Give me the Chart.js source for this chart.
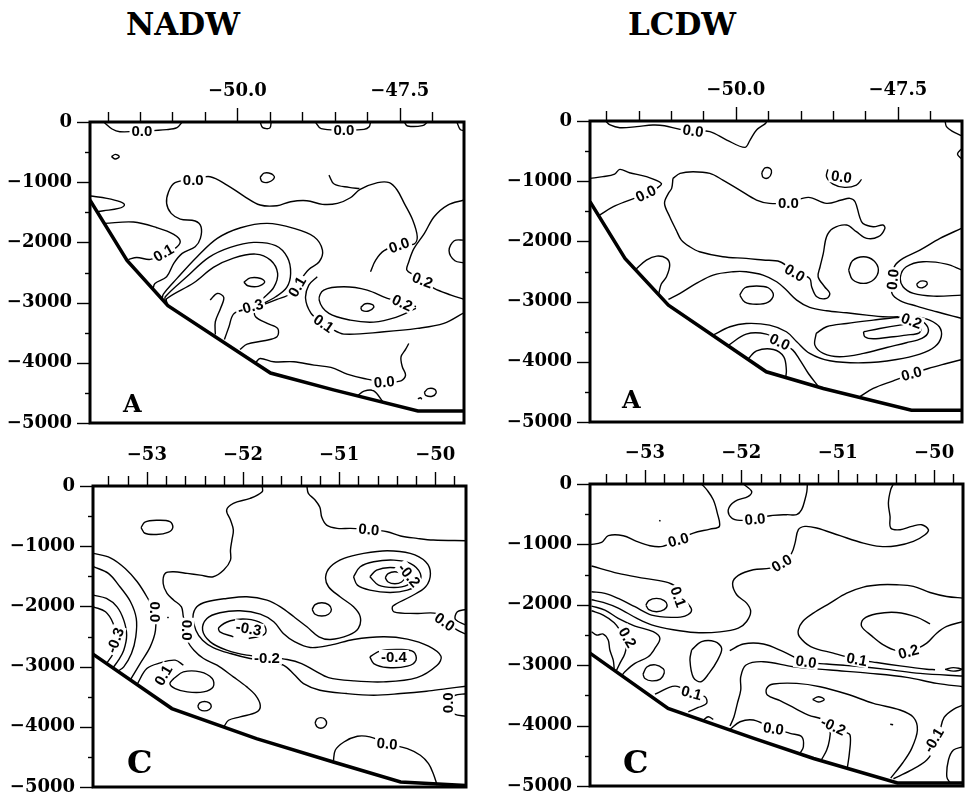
<!DOCTYPE html>
<html>
<head>
<meta charset="utf-8">
<script src="https://cdn.jsdelivr.net/npm/chart.js@4.4.1/dist/chart.umd.min.js"></script>
<style>
  body { margin: 0; width: 966px; height: 796px; background: #fff; position: relative; overflow: hidden; }
  canvas { position: absolute; }
  .title { position: absolute; top: 6px; font: bold 31px "DejaVu Serif", serif; transform: translateX(-50%); color: #000; }
</style>
</head>
<body>
<div class="title" style="left:183px">NADW</div>
<div class="title" style="left:682px">LCDW</div>
<canvas id="nadwA" width="480" height="436" style="left:0;top:0"></canvas>
<canvas id="lcdwA" width="486" height="436" style="left:480px;top:0"></canvas>
<canvas id="nadwC" width="480" height="370" style="left:0;top:430px"></canvas>
<canvas id="lcdwC" width="486" height="370" style="left:480px;top:430px"></canvas>
<script>
// tick labels
var depthTicks = [0, -1000, -2000, -3000, -4000, -5000];
var lonTicksTop = [-50.0, -47.5];
var lonTicksBottom = [-53, -52, -51, -50];

// ---- NADW, section A ----
var nadwA_bottom = [[-52.27,-1300],[-51.70,-2300],[-51.07,-3050],[-49.49,-4170],[-48.52,-4450],[-47.22,-4800],[-46.5,-4800]];
var nadwA_contours = [
  [[-52.06,0],[-51.93,-116],[-51.81,-161],[-51.47,-150],[-51.09,-127],[-50.93,-94],[-50.85,0]],
  [[-49.65,0],[-49.61,-94],[-49.50,-100],[-49.48,0]],
  [[-48.80,0],[-48.71,-111],[-48.36,-133],[-48.05,-122],[-47.97,-78],[-47.95,0]],
  [[-47.43,0],[-47.38,-66],[-47.15,-61],[-47.07,0]],
  [[-46.62,0],[-46.57,-122],[-46.51,-144]],
  [[-51.94,-576],[-51.88,-537],[-51.82,-576],[-51.88,-615],[-51.94,-576]],
  [[-49.65,-920],[-49.59,-850],[-49.48,-860],[-49.43,-920],[-49.52,-1000],[-49.62,-990],[-49.65,-920]],
  [[-52.26,-1230],[-52.01,-1269],[-51.81,-1324],[-51.74,-1379],[-51.83,-1435],[-52.06,-1474],[-52.16,-1490]],
  [[-51.30,-2780],[-51.27,-2681],[-51.09,-2571],[-50.98,-2349],[-50.85,-2183],[-50.65,-2072],[-50.57,-1933],[-50.56,-1740],[-50.65,-1645],[-50.88,-1612],[-51.02,-1518],[-51.09,-1352],[-51.06,-1158],[-50.96,-1008],[-50.68,-953],[-50.42,-909],[-50.16,-1047],[-49.90,-1230],[-49.65,-1379],[-49.39,-1391],[-49.18,-1324],[-48.93,-1307],[-48.69,-1368],[-48.46,-1352],[-48.26,-1258],[-48.11,-1119],[-47.84,-1008],[-47.66,-1008],[-47.54,-1130],[-47.43,-1352],[-47.30,-1629],[-47.23,-1906],[-47.28,-2028],[-47.51,-2044],[-47.74,-2138],[-47.87,-2294],[-47.95,-2487]],
  [[-48.59,-881],[-48.51,-1030],[-48.28,-1086],[-48.12,-1105]],
  [[-52.04,-1684],[-51.60,-1662],[-51.24,-1756],[-50.98,-1867],[-50.88,-1989],[-50.98,-2116],[-51.14,-2183],[-51.34,-2282],[-51.55,-2250],[-51.68,-2285]],
  [[-51.16,-2950],[-51.14,-2859],[-50.93,-2598],[-50.62,-2238],[-50.31,-1933],[-49.95,-1756],[-49.54,-1684],[-49.13,-1767],[-48.82,-1906],[-48.69,-2127],[-48.74,-2321],[-48.90,-2449],[-49.05,-2654],[-49.18,-2848],[-49.39,-2947],[-49.62,-3041],[-49.75,-3080]],
  [[-51.11,-2985],[-51.11,-2903],[-50.78,-2571],[-50.44,-2249],[-50.11,-2083],[-49.75,-2000],[-49.41,-2055],[-49.23,-2249],[-49.18,-2515],[-49.24,-2748],[-49.41,-2903],[-49.65,-3041]],
  [[-51.08,-3020],[-51.09,-2936],[-50.67,-2670],[-50.37,-2415],[-50.06,-2260],[-49.72,-2194],[-49.49,-2294],[-49.38,-2515],[-49.44,-2748],[-49.59,-2914],[-49.75,-3058]],
  [[-49.90,-2660],[-49.80,-2590],[-49.64,-2600],[-49.58,-2660],[-49.68,-2730],[-49.84,-2720],[-49.90,-2660]],
  [[-50.42,-2958],[-50.31,-2848],[-50.21,-2914],[-50.26,-3097],[-50.34,-3318],[-50.34,-3530]],
  [[-49.88,-3097],[-50.06,-3191],[-50.13,-3402],[-50.20,-3612]],
  [[-49.75,-3097],[-49.72,-3235],[-49.54,-3346],[-49.38,-3429],[-49.39,-3568],[-49.59,-3634],[-49.85,-3690],[-49.96,-3778]],
  [[-47.25,-3069],[-47.43,-2986],[-47.69,-2931],[-48.00,-2792],[-48.36,-2737],[-48.67,-2792],[-48.74,-2958],[-48.59,-3180],[-48.26,-3291],[-47.90,-3324],[-47.56,-3246],[-47.25,-3097]],
  [[-48.10,-3080],[-48.03,-3020],[-47.92,-3035],[-47.90,-3080],[-47.98,-3140],[-48.08,-3130],[-48.10,-3080]],
  [[-46.51,-3169],[-46.82,-3346],[-47.23,-3429],[-47.74,-3485],[-48.36,-3523],[-48.56,-3429],[-48.72,-3318],[-48.87,-3169],[-48.95,-2931],[-48.90,-2709],[-48.77,-2571]],
  [[-46.51,-1296],[-46.76,-1379],[-46.97,-1573],[-47.12,-1850],[-47.28,-2100],[-47.36,-2321],[-47.39,-2460],[-47.28,-2543],[-47.15,-2626],[-46.97,-2764],[-46.71,-2875],[-46.51,-2947]],
  [[-46.51,-1961],[-46.66,-1972],[-46.74,-2138],[-46.65,-2305],[-46.51,-2338]],
  [[-49.72,-4000],[-49.65,-3928],[-49.44,-3983],[-49.13,-3983],[-48.82,-4039],[-48.56,-4077],[-48.31,-4188],[-48.05,-4260],[-47.74,-4316],[-47.48,-4299],[-47.41,-4205],[-47.46,-4066],[-47.48,-3900],[-47.41,-3778],[-47.36,-3679]],
  [[-48.15,-4550],[-48.05,-4470],[-47.90,-4465],[-47.76,-4645]],
  [[-47.12,-4490],[-47.06,-4430],[-46.96,-4440],[-46.94,-4500],[-47.00,-4555],[-47.10,-4540],[-47.12,-4490]],
  [[-47.22,-4600],[-47.18,-4580],[-47.16,-4605]]
];
var nadwA_labels = [
  [-51.47,-150,'0.0',0], [-48.36,-133,'0.0',0], [-50.68,-964,'0.0',0],
  [-51.14,-2172,'0.1',-30], [-49.08,-2737,'0.1',-60], [-49.80,-3069,'-0.3',-15],
  [-47.51,-2044,'0.0',-20], [-47.15,-2626,'0.2',20], [-47.46,-3003,'0.2',25],
  [-48.67,-3346,'0.1',35], [-47.74,-4316,'0.0',-5]
];

// ---- LCDW, section A ----
var lcdwA_bottom = [[-52.25,-1341],[-51.71,-2282],[-51.04,-3058],[-49.53,-4166],[-48.65,-4443],[-47.29,-4803],[-46.51,-4803]];
var lcdwA_contours = [
  [[-52.01,0],[-51.94,-66],[-51.79,-111],[-51.53,-94],[-51.28,-66],[-51.10,-78],[-50.86,-139],[-50.66,-161],[-50.40,-177],[-50.14,-316],[-49.86,-438],[-49.78,-316],[-49.68,-150],[-49.54,-39],[-49.52,0]],
  [[-46.77,0],[-46.75,-94],[-46.65,-177],[-46.54,-233],[-46.51,-249]],
  [[-46.51,-454],[-46.58,-548],[-46.51,-637]],
  [[-49.60,-860],[-49.55,-780],[-49.47,-790],[-49.45,-860],[-49.50,-945],[-49.58,-935],[-49.60,-860]],
  [[-48.58,-803],[-48.60,-925],[-48.50,-1047],[-48.32,-1102],[-48.14,-1064],[-48.06,-970]],
  [[-52.25,-953],[-52.05,-925],[-51.87,-881],[-51.79,-803],[-51.64,-859],[-51.38,-925],[-51.15,-1036],[-51.22,-1119],[-51.40,-1213],[-51.64,-1313],[-51.89,-1424],[-52.11,-1570]],
  [[-50.97,-953],[-50.86,-870],[-50.66,-842],[-50.40,-870],[-50.20,-981],[-49.94,-1147],[-49.68,-1313],[-49.48,-1368],[-49.19,-1357],[-48.88,-1269],[-48.60,-1368],[-48.37,-1313],[-48.24,-1285],[-48.16,-1341],[-48.09,-1590],[-48.04,-1701],[-47.88,-1756],[-47.73,-1728],[-47.70,-1784],[-47.80,-1922],[-47.98,-1950],[-48.14,-1839],[-48.29,-1728],[-48.50,-1784],[-48.60,-1922],[-48.65,-2199],[-48.70,-2421],[-48.73,-2587],[-48.63,-2753],[-48.55,-2864],[-48.60,-2947],[-48.75,-2920],[-48.83,-2753],[-48.86,-2615],[-49.09,-2504],[-49.32,-2338],[-49.58,-2310],[-49.84,-2282],[-50.20,-2255],[-50.56,-2172],[-50.71,-2089],[-50.84,-1978],[-50.92,-1812],[-51.02,-1590],[-51.10,-1368],[-51.04,-1202],[-50.99,-1119],[-50.97,-953]],
  [[-51.55,-2470],[-51.38,-2310],[-51.22,-2244],[-51.07,-2282],[-51.02,-2393],[-51.07,-2587],[-51.15,-2709],[-51.19,-2870]],
  [[-51.04,-2964],[-50.86,-2864],[-50.61,-2698],[-50.35,-2559],[-50.04,-2504],[-49.84,-2504],[-49.58,-2559],[-49.37,-2670],[-49.22,-2809],[-49.06,-2975],[-48.86,-3097],[-48.60,-3152],[-48.29,-3186],[-47.98,-3224],[-47.73,-3252],[-47.49,-3252]],
  [[-49.94,-2890],[-49.86,-2770],[-49.68,-2740],[-49.50,-2770],[-49.42,-2890],[-49.50,-3010],[-49.68,-3045],[-49.86,-3010],[-49.94,-2890]],
  [[-48.26,-2476],[-48.20,-2320],[-48.03,-2254],[-47.87,-2320],[-47.80,-2476],[-47.87,-2632],[-48.03,-2698],[-48.20,-2632],[-48.26,-2476]],
  [[-46.52,-1784],[-46.85,-1950],[-47.16,-2144],[-47.42,-2282],[-47.55,-2410],[-47.59,-2632],[-47.59,-2864],[-47.46,-2986],[-47.21,-3075],[-46.90,-3169],[-46.65,-3241],[-46.51,-3280]],
  [[-46.51,-2476],[-46.75,-2377],[-47.11,-2338],[-47.37,-2421],[-47.46,-2587],[-47.42,-2753],[-47.26,-2864],[-46.95,-2909],[-46.51,-2892]],
  [[-47.21,-2710],[-47.15,-2660],[-47.06,-2670],[-47.05,-2720],[-47.12,-2770],[-47.19,-2755],[-47.21,-2710]],
  [[-48.03,-3501],[-47.78,-3446],[-47.47,-3390],[-47.26,-3363],[-47.15,-3429],[-47.17,-3518],[-47.37,-3557],[-47.57,-3584],[-47.88,-3618],[-48.01,-3584],[-48.03,-3501]],
  [[-48.76,-3529],[-48.60,-3418],[-48.29,-3363],[-47.88,-3307],[-47.52,-3263],[-47.26,-3263],[-47.08,-3363],[-47.03,-3501],[-47.13,-3612],[-47.37,-3684],[-47.67,-3762],[-48.03,-3861],[-48.40,-3917],[-48.65,-3861],[-48.78,-3723],[-48.76,-3529]],
  [[-50.35,-3557],[-50.09,-3418],[-49.84,-3363],[-49.48,-3390],[-49.22,-3501],[-49.06,-3667],[-48.86,-3861],[-48.55,-3983],[-48.03,-4017],[-47.52,-3961],[-47.16,-3872],[-46.93,-3751],[-46.83,-3584],[-46.86,-3418],[-47.01,-3307],[-47.21,-3252]],
  [[-50.12,-3730],[-49.84,-3540],[-49.53,-3540],[-49.32,-3667],[-49.12,-3806],[-49.01,-3972],[-48.88,-4194],[-48.73,-4404]],
  [[-49.81,-3955],[-49.68,-3817],[-49.42,-3795],[-49.26,-3917],[-49.22,-4138],[-49.23,-4260]],
  [[-48.10,-4590],[-47.88,-4443],[-47.57,-4316],[-47.29,-4205],[-47.03,-4111],[-46.75,-4028],[-46.51,-3961]]
];
var lcdwA_labels = [
  [-50.66,-161,'0.0',8], [-48.37,-925,'0.0',8], [-51.39,-1202,'0.0',-25],
  [-49.19,-1357,'0.0',0], [-49.09,-2520,'0.0',30], [-47.58,-2632,'0.0',-85],
  [-47.29,-3318,'0.2',20], [-49.32,-3667,'0.0',25], [-47.29,-4194,'0.0',-15]
];

// ---- NADW, section C ----
var nadwC_bottom = [[-53.56,-2794],[-52.74,-3697],[-51.86,-4196],[-51.06,-4584],[-50.36,-4917],[-49.68,-4975]];
var nadwC_contours = [
  [[-51.80,0],[-51.80,-94],[-51.925,-205],[-52.10,-288],[-52.17,-399],[-52.13,-565],[-52.10,-732],[-52.115,-898],[-52.13,-1064],[-52.13,-1231],[-52.20,-1397],[-52.31,-1508],[-52.445,-1480],[-52.58,-1452],[-52.72,-1425],[-52.81,-1452],[-52.83,-1619],[-52.79,-1785],[-52.72,-1896],[-52.64,-2007],[-52.62,-2173],[-52.58,-2395],[-52.57,-2589],[-52.51,-2727],[-52.41,-2866],[-52.27,-2977],[-52.10,-3171],[-51.96,-3337],[-51.87,-3475],[-51.82,-3642],[-51.855,-3753],[-52.03,-3836],[-52.15,-3891],[-52.195,-3991]],
  [[-51.335,0],[-51.32,-122],[-51.25,-233],[-51.20,-355],[-51.18,-521],[-51.13,-649],[-51.02,-704],[-50.88,-704],[-50.69,-721],[-50.50,-759],[-50.36,-831],[-50.19,-870],[-50.02,-898],[-49.68,-909]],
  [[-53.06,-690],[-53.02,-600],[-52.90,-570],[-52.76,-590],[-52.73,-690],[-52.78,-770],[-52.90,-805],[-53.02,-785],[-53.06,-690]],
  [[-49.68,-2461],[-49.77,-2395],[-49.86,-2284],[-49.98,-2120],[-50.19,-2117],[-50.43,-2090],[-50.44,-1995],[-50.26,-1840],[-50.10,-1674],[-50.05,-1452],[-50.10,-1258],[-50.26,-1120],[-50.50,-1075],[-50.745,-1120],[-50.95,-1203],[-51.09,-1341],[-51.14,-1508],[-51.11,-1674],[-50.99,-1840],[-50.85,-2007],[-50.78,-2173],[-50.80,-2367],[-50.90,-2478],[-51.09,-2550],[-51.21,-2505],[-51.335,-2339],[-51.47,-2173],[-51.61,-2007],[-51.75,-1896],[-51.96,-1840],[-52.17,-1868],[-52.375,-1923],[-52.48,-2007],[-52.52,-2173],[-52.49,-2395],[-52.42,-2561],[-52.31,-2683],[-52.13,-2783],[-51.925,-2866],[-51.75,-2905],[-51.58,-2977],[-51.47,-3126],[-51.37,-3282],[-51.20,-3392],[-50.92,-3448],[-50.64,-3475],[-50.36,-3448],[-50.09,-3409],[-49.88,-3365],[-49.68,-3326]],
  [[-50.85,-1508],[-50.78,-1341],[-50.64,-1258],[-50.43,-1231],[-50.26,-1286],[-50.155,-1452],[-50.17,-1619],[-50.29,-1729],[-50.47,-1768],[-50.68,-1729],[-50.81,-1646],[-50.85,-1508]],
  [[-50.68,-1508],[-50.61,-1397],[-50.47,-1353],[-50.31,-1397],[-50.24,-1535],[-50.29,-1646],[-50.43,-1685],[-50.59,-1646],[-50.68,-1508]],
  [[-50.52,-1524],[-50.49,-1455],[-50.42,-1424],[-50.35,-1455],[-50.32,-1524],[-50.35,-1595],[-50.42,-1624],[-50.49,-1595],[-50.52,-1524]],
  [[-51.28,-2050],[-51.25,-1970],[-51.18,-1940],[-51.11,-1970],[-51.08,-2050],[-51.11,-2130],[-51.18,-2160],[-51.25,-2130],[-51.28,-2050]],
  [[-49.68,-2051],[-49.77,-2090],[-49.79,-2217],[-49.68,-2311]],
  [[-51.94,-2533],[-51.79,-2478],[-51.76,-2395],[-51.80,-2284],[-51.96,-2212],[-52.13,-2239],[-52.25,-2350],[-52.24,-2422],[-52.10,-2505]],
  [[-51.75,-2838],[-51.96,-2810],[-52.17,-2727],[-52.34,-2589],[-52.42,-2395],[-52.375,-2200],[-52.24,-2106],[-52.03,-2073],[-51.82,-2128],[-51.68,-2256],[-51.58,-2450],[-51.46,-2589],[-51.30,-2683],[-51.09,-2644],[-50.85,-2550],[-50.54,-2505],[-50.29,-2544],[-50.07,-2661],[-49.94,-2827],[-49.98,-2977],[-50.19,-3182],[-50.54,-3254],[-50.85,-3237],[-51.11,-3182],[-51.25,-3071],[-51.39,-2949],[-51.54,-2882],[-51.75,-2838]],
  [[-50.68,-2838],[-50.57,-2738],[-50.36,-2716],[-50.225,-2755],[-50.20,-2893],[-50.29,-2993],[-50.50,-3015],[-50.64,-2949],[-50.68,-2838]],
  [[-49.68,-3450],[-49.80,-3480],[-49.87,-3560],[-49.86,-3690],[-49.80,-3790],[-49.68,-3825]],
  [[-53.555,-1120],[-53.38,-1192],[-53.225,-1369],[-53.10,-1591],[-53.00,-1840],[-52.92,-2090],[-52.91,-2395],[-52.965,-2672],[-53.07,-2949],[-53.17,-3215]],
  [[-53.555,-1341],[-53.40,-1452],[-53.28,-1674],[-53.17,-1923],[-53.11,-2200],[-53.115,-2505],[-53.16,-2783],[-53.24,-3004],[-53.30,-3075]],
  [[-53.555,-1813],[-53.42,-1868],[-53.31,-2007],[-53.24,-2228],[-53.21,-2478],[-53.24,-2727],[-53.295,-2893],[-53.35,-3015]],
  [[-53.555,-2007],[-53.43,-2090],[-53.35,-2284],[-53.31,-2561],[-53.35,-2783],[-53.42,-2949]],
  [[-53.10,-3290],[-53.00,-3032],[-52.86,-2938],[-52.705,-2893],[-52.62,-2977]],
  [[-52.72,-3198],[-52.62,-3088],[-52.445,-3088],[-52.32,-3198],[-52.31,-3337],[-52.41,-3420],[-52.58,-3420],[-52.705,-3365],[-52.76,-3282],[-52.72,-3198]],
  [[-52.47,-3658],[-52.45,-3603],[-52.40,-3580],[-52.35,-3603],[-52.33,-3658],[-52.35,-3713],[-52.40,-3736],[-52.45,-3713],[-52.47,-3658]],
  [[-51.25,-3936],[-51.23,-3870],[-51.19,-3847],[-51.15,-3870],[-51.13,-3936],[-51.15,-4000],[-51.19,-4025],[-51.23,-4000],[-51.25,-3936]],
  [[-51.06,-4584],[-51.04,-4390],[-50.95,-4252],[-50.81,-4157],[-50.68,-4168],[-50.50,-4279],[-50.29,-4362],[-50.155,-4473],[-50.07,-4612],[-50.02,-4778],[-49.98,-4972]],
  [[-52.785,-2175],[-52.775,-2195]]
];
var nadwC_labels = [
  [-50.69,-721,'0.0',5], [-50.27,-1480,'-0.2',50], [-52.91,-2090,'0.0',90],
  [-52.58,-2395,'0.0',90], [-51.94,-2367,'-0.3',10], [-51.75,-2855,'-0.2',0],
  [-53.33,-2561,'-0.3',-70], [-52.83,-3143,'0.1',-60], [-50.43,-2838,'-0.4',0],
  [-49.90,-2256,'0.0',35], [-49.87,-3600,'0.0',-90], [-50.50,-4279,'0.0',5]
];

// ---- LCDW, section C ----
var lcdwC_bottom = [[-53.57,-2800],[-52.76,-3715],[-51.87,-4212],[-51.25,-4544],[-50.38,-4950],[-49.70,-4950]];
var lcdwC_contours = [
  [[-53.571,-1006],[-53.45,-967],[-53.38,-856],[-53.225,-856],[-53.087,-950],[-52.948,-1022],[-52.817,-1033],[-52.654,-923],[-52.498,-812],[-52.325,-746],[-52.228,-702],[-52.249,-481],[-52.291,-260],[-52.353,-105],[-52.412,0]],
  [[-51.979,0],[-51.893,-122],[-51.927,-204],[-52.066,-287],[-52.135,-425],[-52.10,-564],[-52.014,-602],[-51.858,-580],[-51.70,-525],[-51.53,-508],[-51.426,-508],[-51.374,-425],[-51.34,-260],[-51.32,-122],[-51.315,0]],
  [[-52.85,-598],[-52.84,-618]],
  [[-50.422,0],[-50.45,-94],[-50.474,-315],[-50.457,-536],[-50.45,-729],[-50.353,-757],[-50.232,-702],[-50.128,-674],[-50.059,-757],[-50.094,-840],[-50.215,-950],[-50.388,-1022],[-50.561,-1033],[-50.734,-978],[-50.976,-856],[-51.218,-729],[-51.34,-702],[-51.408,-757],[-51.443,-978],[-51.478,-1144],[-51.581,-1309],[-51.70,-1392],[-51.876,-1420],[-52.031,-1514],[-52.09,-1641],[-52.048,-1834],[-51.945,-1972],[-51.903,-2111],[-51.945,-2276],[-52.031,-2387],[-52.221,-2448],[-52.481,-2459],[-52.706,-2414],[-52.931,-2332],[-53.087,-2221],[-53.277,-2055],[-53.433,-1961],[-53.554,-1917]],
  [[-53.554,-1358],[-53.277,-1480],[-53.0,-1563],[-52.758,-1634],[-52.637,-1756],[-52.585,-1921],[-52.516,-2087],[-52.585,-2186],[-52.723,-2208],[-52.931,-2170],[-53.104,-2032],[-53.277,-1894],[-53.415,-1811],[-53.554,-1783]],
  [[-52.99,-2004],[-52.96,-1930],[-52.88,-1894],[-52.80,-1930],[-52.77,-2004],[-52.80,-2080],[-52.88,-2114],[-52.96,-2080],[-52.99,-2004]],
  [[-53.554,-2021],[-53.415,-2087],[-53.277,-2225],[-53.104,-2352],[-52.914,-2446],[-52.845,-2556],[-52.897,-2722],[-52.966,-2860],[-53.104,-2970],[-53.208,-3108],[-53.236,-3163]],
  [[-53.554,-2098],[-53.433,-2170],[-53.319,-2297],[-53.249,-2446],[-53.19,-2611],[-53.208,-2805],[-53.26,-2970],[-53.294,-3081]],
  [[-53.554,-2446],[-53.502,-2501],[-53.433,-2484],[-53.381,-2584],[-53.364,-2749],[-53.329,-2915],[-53.319,-3060]],
  [[-53.02,-3150],[-52.98,-3030],[-52.89,-2995],[-52.81,-3060],[-52.80,-3130],[-52.84,-3230],[-52.93,-3260],[-53.00,-3220],[-53.02,-3150]],
  [[-52.516,-2749],[-52.412,-2611],[-52.274,-2611],[-52.204,-2722],[-52.246,-2915],[-52.336,-3136],[-52.419,-3274],[-52.498,-3202],[-52.533,-2915],[-52.516,-2749]],
  [[-52.896,-3480],[-52.689,-3346],[-52.516,-3456],[-52.377,-3522],[-52.36,-3633],[-52.447,-3699],[-52.55,-3771]],
  [[-52.395,-3909],[-52.343,-3853],[-52.291,-3898]],
  [[-52.117,-4060],[-52.013,-3936],[-51.875,-3908],[-51.667,-4046],[-51.494,-4129],[-51.373,-4184],[-51.356,-4350],[-51.391,-4460]],
  [[-52.117,-4007],[-52.076,-3853],[-52.041,-3632],[-52.006,-3411],[-52.006,-3190],[-51.951,-2997],[-51.771,-2942],[-51.46,-3025],[-51.079,-3080],[-50.664,-3135],[-50.283,-3201],[-49.972,-3301],[-49.699,-3356]],
  [[-52.12,-2760],[-51.979,-2649],[-51.771,-2649],[-51.564,-2776],[-51.339,-2942],[-51.114,-2981],[-50.837,-3014],[-50.491,-3069],[-50.145,-3135],[-49.699,-3179]],
  [[-49.696,-1890],[-49.869,-1862],[-50.042,-1796],[-50.215,-1696],[-50.388,-1669],[-50.561,-1669],[-50.734,-1707],[-50.907,-1807],[-51.08,-1972],[-51.253,-2138],[-51.363,-2276],[-51.408,-2414],[-51.398,-2525],[-51.28,-2691],[-51.045,-2801],[-50.803,-2901],[-50.595,-2956],[-50.353,-3011],[-50.076,-3066],[-49.99,-3075]],
  [[-49.696,-2276],[-49.869,-2359],[-49.973,-2470],[-50.076,-2635],[-50.215,-2746],[-50.388,-2757],[-50.526,-2663],[-50.647,-2514],[-50.751,-2359],[-50.734,-2238],[-50.595,-2149],[-50.388,-2127],[-50.18,-2204],[-50.042,-2315]],
  [[-49.886,-3069],[-49.80,-3040],[-49.712,-3069],[-49.80,-3098],[-49.886,-3069]],
  [[-50.899,-4685],[-50.879,-4460],[-50.872,-4156],[-50.934,-4101],[-51.045,-3991],[-51.166,-3891],[-51.304,-3825],[-51.443,-3715],[-51.598,-3588],[-51.73,-3494],[-51.737,-3384],[-51.667,-3312],[-51.425,-3301],[-51.183,-3356],[-50.906,-3477],[-50.629,-3632],[-50.353,-3742],[-50.214,-3864],[-50.173,-4074],[-50.232,-4377],[-50.325,-4615],[-50.45,-4870]],
  [[-51.121,-3936],[-51.079,-4074],[-51.086,-4239],[-51.114,-4405],[-51.166,-4560]],
  [[-51.26,-3566],[-51.20,-3522],[-51.14,-3566],[-51.20,-3610],[-51.26,-3566]],
  [[-50.455,-3978],[-50.425,-3986]],
  [[-49.699,-3660],[-49.799,-3731],[-49.896,-3864],[-49.937,-4074],[-49.979,-4322],[-50.076,-4570],[-50.249,-4747],[-50.422,-4880]],
  [[-49.699,-4350],[-49.799,-4405],[-49.851,-4570],[-49.868,-4846],[-49.834,-4950]]
];
var lcdwC_labels = [
  [-52.654,-923,'0.0',-15], [-51.858,-580,'0.0',-5], [-51.581,-1309,'0.0',-30],
  [-52.654,-1866,'0.1',70], [-53.18,-2540,'0.2',60], [-51.328,-2942,'0.0',8],
  [-50.802,-2903,'0.1',10], [-50.266,-2776,'0.2',-15], [-52.516,-3456,'0.1',15],
  [-51.667,-4046,'0.0',8], [-51.045,-4007,'-0.2',25], [-50.007,-4239,'-0.1',-60]
];

var minus = function(v){ return v < 0 ? '\u2212' + Math.abs(v) : String(v); };
var near = function(list, v){ return list.some(function(t){ return Math.abs(t - v) < 1e-6; }); };

// frame, tick marks (major/minor) and panel letter
var panelBox = {
  id: 'panelBox',
  afterDraw: function(chart, args, opts){
    var ctx = chart.ctx, a = chart.chartArea, x = chart.scales.x, y = chart.scales.y;
    ctx.save();
    ctx.strokeStyle = '#000';
    ctx.lineWidth = 1.4;
    x.ticks.forEach(function(t){
      var px = Math.round(x.getPixelForValue(t.value)) + 0.5;
      var len = near(opts.lonLabels, t.value) ? 14 : 10;
      ctx.beginPath(); ctx.moveTo(px, a.top); ctx.lineTo(px, a.top - len); ctx.stroke();
    });
    y.ticks.forEach(function(t){
      var py = Math.round(y.getPixelForValue(t.value)) + 0.5;
      var len = near(depthTicks, t.value) ? 13 : 5;
      ctx.beginPath(); ctx.moveTo(a.left, py); ctx.lineTo(a.left - len, py); ctx.stroke();
    });
    ctx.lineWidth = 3;
    ctx.strokeRect(a.left, a.top, a.right - a.left, a.bottom - a.top);
    ctx.fillStyle = '#000';
    ctx.font = opts.font;
    ctx.textBaseline = 'alphabetic';
    ctx.fillText(opts.letter, a.left + opts.dx, a.bottom - opts.dy);
    ctx.restore();
  }
};

var contourLabels = {
  id: 'contourLabels',
  afterDatasetsDraw: function(chart, args, opts){
    var ctx = chart.ctx, x = chart.scales.x, y = chart.scales.y;
    ctx.save();
    ctx.font = 'bold 15px "Liberation Sans"';
    ctx.textAlign = 'center';
    ctx.textBaseline = 'middle';
    opts.items.forEach(function(l){
      var w = ctx.measureText(l[2]).width;
      ctx.save();
      ctx.translate(x.getPixelForValue(l[0]), y.getPixelForValue(l[1]));
      ctx.rotate(l[3] * Math.PI / 180);
      ctx.fillStyle = '#fff';
      ctx.fillRect(-w / 2 - 2, -7, w + 4, 14);
      ctx.fillStyle = '#000';
      ctx.fillText(l[2], 0, 1);
      ctx.restore();
    });
    ctx.restore();
  }
};

var makePanel = function(id, p){
  var datasets = p.contours.map(function(line){
    return { data: line, showLine: true, pointRadius: 0, borderColor: '#000', borderWidth: 1.4, tension: 0.35, fill: false };
  });
  datasets.push({ data: p.bottom, showLine: true, pointRadius: 0, borderColor: '#000', borderWidth: 3.5, tension: 0, fill: false });

  var tickFont = { family: 'DejaVu Serif', size: 18, weight: 'bold' };
  // tick marks are drawn by panelBox; the library's own (invisible) marks only set the label gap
  var hiddenTicks = { display: true, drawOnChartArea: false, drawTicks: true, tickColor: 'rgba(0,0,0,0)' };
  const config = {
    type: 'scatter',
    data: { datasets: datasets },
    options: {
      responsive: false,
      animation: false,
      devicePixelRatio: 1,
      events: [],
      layout: { padding: { left: 0, top: 0, right: p.padRight, bottom: p.padBottom } },
      plugins: {
        legend: { display: false },
        tooltip: { enabled: false },
        contourLabels: { items: p.labels },
        panelBox: { letter: p.letter, font: p.letterFont, dx: p.letterDx, dy: p.letterDy, lonLabels: p.lonLabels }
      },
      scales: {
        x: {
          type: 'linear', position: 'top', min: p.xmin, max: p.xmax,
          afterFit: function(s){ s.height = p.topH; },
          border: { display: false },
          grid: Object.assign({ tickLength: 20 }, hiddenTicks),
          ticks: {
            stepSize: p.step, autoSkip: false, maxRotation: 0, minRotation: 0, includeBounds: false,
            maxTicksLimit: 100, padding: 0, color: '#000', font: tickFont,
            callback: function(v){ return near(p.lonLabels, v) ? '\u2212' + Math.abs(v).toFixed(p.digits) : ''; }
          }
        },
        y: {
          type: 'linear', position: 'left', min: -5000, max: 0,
          afterFit: function(s){ s.width = p.leftW; },
          border: { display: false },
          grid: Object.assign({ tickLength: 18 }, hiddenTicks),
          ticks: {
            stepSize: 500, autoSkip: false, includeBounds: false, padding: 0, color: '#000', font: tickFont,
            callback: function(v){ return near(depthTicks, v) ? minus(v) : ''; }
          }
        }
      }
    },
    plugins: [contourLabels, panelBox]
  };
  return new Chart(document.getElementById(id), config);
};

makePanel('nadwA', { contours: nadwA_contours, bottom: nadwA_bottom, labels: nadwA_labels,
  xmin: -52.27, xmax: -46.51, step: 0.5, lonLabels: lonTicksTop, digits: 1,
  leftW: 90, topH: 122, padRight: 16, padBottom: 13,
  letter: 'A', letterFont: 'bold 24px "DejaVu Serif"', letterDx: 33, letterDy: 11 });
makePanel('lcdwA', { contours: lcdwA_contours, bottom: lcdwA_bottom, labels: lcdwA_labels,
  xmin: -52.25, xmax: -46.51, step: 0.5, lonLabels: lonTicksTop, digits: 1,
  leftW: 110, topH: 121, padRight: 4, padBottom: 14,
  letter: 'A', letterFont: 'bold 24px "DejaVu Serif"', letterDx: 32, letterDy: 14 });
makePanel('nadwC', { contours: nadwC_contours, bottom: nadwC_bottom, labels: nadwC_labels,
  xmin: -53.56, xmax: -49.68, step: 0.2, lonLabels: lonTicksBottom, digits: 0,
  leftW: 93, topH: 56, padRight: 14, padBottom: 13,
  letter: 'C', letterFont: 'bold 32px "DejaVu Serif"', letterDx: 34, letterDy: 14 });
makePanel('lcdwC', { contours: lcdwC_contours, bottom: lcdwC_bottom, labels: lcdwC_labels,
  xmin: -53.57, xmax: -49.70, step: 0.2, lonLabels: lonTicksBottom, digits: 0,
  leftW: 110, topH: 54, padRight: 3, padBottom: 14,
  letter: 'C', letterFont: 'bold 32px "DejaVu Serif"', letterDx: 33, letterDy: 13 });
</script>
</body>
</html>
